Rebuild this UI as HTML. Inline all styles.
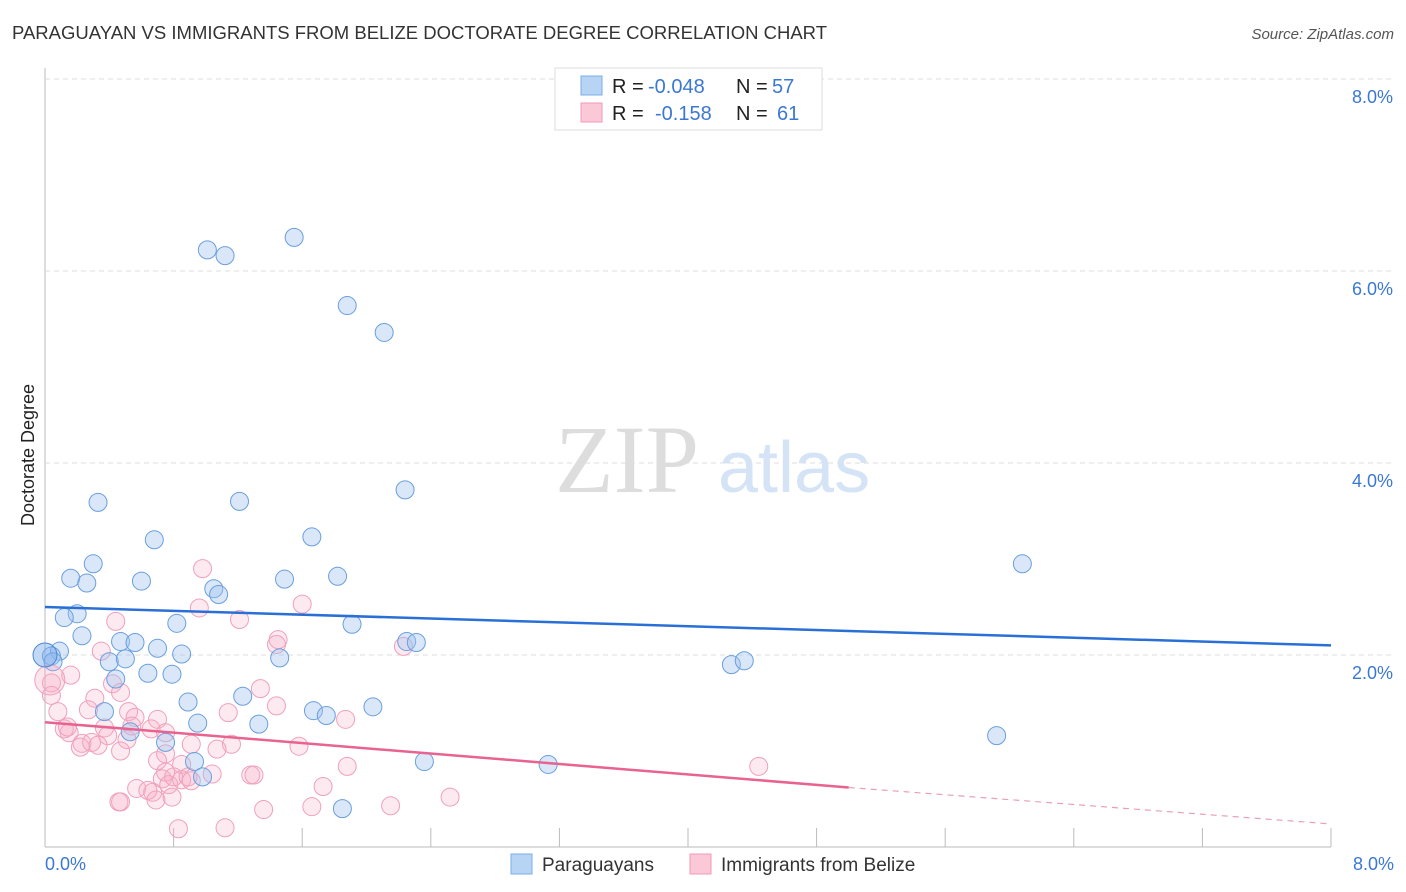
<!DOCTYPE html>
<html><head><meta charset="utf-8"><style>
body{margin:0;background:#fff;font-family:"Liberation Sans",sans-serif;}
svg{display:block}
</style></head><body>
<svg id="chart" width="1406" height="892">
<text x="12" y="39" font-size="18" fill="#333" textLength="815" lengthAdjust="spacingAndGlyphs">PARAGUAYAN VS IMMIGRANTS FROM BELIZE DOCTORATE DEGREE CORRELATION CHART</text>
<text x="1394" y="39" font-size="15" fill="#555" text-anchor="end" font-style="italic">Source: ZipAtlas.com</text>
<text x="34" y="455" font-size="18" fill="#222" text-anchor="middle" transform="rotate(-90 34 455)">Doctorate Degree</text>
<g id="grid"></g>
<text x="555" y="492" font-size="96" fill="#ddd" font-family="Liberation Serif,serif">ZIP</text>
<text x="718" y="492" font-size="72" fill="#d4e3f5">atlas</text>
<g id="pts"></g>
<g id="lines"></g>
<g>
<rect x="555" y="68" width="267" height="62" fill="#fff" stroke="#ddd"/>
<rect x="581" y="76" width="21" height="19" fill="#b8d4f5" stroke="#7aaee8"/>
<rect x="581" y="103" width="21" height="19" fill="#fbc8d8" stroke="#f09ab5"/>
<text x="612" y="93" font-size="20" fill="#222">R =</text>
<text x="648" y="93" font-size="20" fill="#3b78d4">-0.048</text>
<text x="736" y="93" font-size="20" fill="#222">N =</text>
<text x="772" y="93" font-size="20" fill="#3b78d4">57</text>
<text x="612" y="120" font-size="20" fill="#222">R =</text>
<text x="655" y="120" font-size="20" fill="#3b78d4">-0.158</text>
<text x="736" y="120" font-size="20" fill="#222">N =</text>
<text x="777" y="120" font-size="20" fill="#3b78d4">61</text>
</g>
<g>
<rect x="511" y="854" width="21" height="20" fill="#b8d4f5" stroke="#7aaee8"/>
<text x="542" y="871" font-size="19" fill="#333">Paraguayans</text>
<rect x="690" y="854" width="21" height="20" fill="#fbc8d8" stroke="#f09ab5"/>
<text x="721" y="871" font-size="19" fill="#333">Immigrants from Belize</text>
</g>
</svg>
<script>
const yTicks=[2,4,6,8];
const xTickLabels=["0.0%","8.0%"];
const blueX=[1.01,1.12,1.55,1.88,2.11,0.33,1.21,2.24,0.68,1.66,0.30,0.16,0.26,0.60,1.05,1.08,1.49,1.82,6.08,0.20,0.12,0.82,1.91,0.23,0.47,0.56,0.70,0.85,0.09,0.04,0.05,2.25,2.31,0.40,0.50,1.46,0.79,4.27,4.35,0.64,0.44,1.23,0.89,0.37,1.67,1.75,2.04,0.95,1.33,0.53,0.75,5.92,0.93,2.36,3.13,0.98,1.85];
const blueY=[6.22,6.16,6.35,5.64,5.36,3.59,3.60,3.72,3.20,3.23,2.95,2.80,2.75,2.77,2.69,2.63,2.79,2.82,2.95,2.43,2.39,2.33,2.32,2.20,2.14,2.13,2.07,2.01,2.04,1.99,1.93,2.14,2.13,1.93,1.96,1.97,1.80,1.90,1.94,1.81,1.75,1.57,1.51,1.41,1.42,1.37,1.46,1.29,1.28,1.20,1.09,1.16,0.89,0.89,0.86,0.73,0.40];
const pinkX=[0.98,0.96,1.60,1.21,0.44,0.35,1.45,1.44,2.23,0.16,0.04,0.04,0.31,0.42,0.47,1.34,1.44,1.14,0.70,1.87,0.08,0.27,0.52,0.56,0.66,0.54,0.12,0.15,0.14,0.37,0.39,0.51,0.91,1.16,1.58,0.23,0.22,0.29,0.33,0.47,0.75,0.85,1.07,0.75,0.70,0.75,0.73,0.77,0.80,0.85,0.89,0.91,1.04,1.28,1.30,1.88,4.44,1.73,0.57,0.67,0.64,0.47,0.69,0.79,0.46,1.36,2.15,1.66,2.52,0.83,1.12];
const pinkY=[2.90,2.49,2.53,2.37,2.35,2.04,2.16,2.11,2.09,1.79,1.71,1.58,1.55,1.70,1.61,1.65,1.47,1.40,1.33,1.33,1.41,1.43,1.41,1.35,1.23,1.26,1.23,1.19,1.25,1.24,1.16,1.12,1.07,1.07,1.05,1.08,1.04,1.09,1.06,1.00,0.97,0.86,1.02,1.19,0.90,0.78,0.71,0.65,0.73,0.70,0.73,0.69,0.76,0.75,0.75,0.84,0.84,0.63,0.61,0.57,0.59,0.47,0.49,0.52,0.47,0.39,0.43,0.42,0.52,0.19,0.20];
const blueBig=[[0.0,2.0]], pinkBig=[[0.03,1.74]];
const blueTrend=[[0,2.50],[8,2.10]];
const pinkTrend=[[0,1.30],[5,0.62],[8,0.24]];
const NS="http://www.w3.org/2000/svg";
const sx=v=>45+v*160.75, sy=v=>847-v*96;
function mk(tag,attrs,parent){const e=document.createElementNS(NS,tag);for(const k in attrs)e.setAttribute(k,attrs[k]);parent.appendChild(e);return e;}
const grid=document.getElementById('grid'),pts=document.getElementById('pts'),lines=document.getElementById('lines');
mk('line',{x1:45,y1:68,x2:45,y2:847,stroke:'#bbb'},grid);
mk('line',{x1:45,y1:847,x2:1331,y2:847,stroke:'#bbb'},grid);
yTicks.forEach(t=>{
  const l=mk('line',{x1:45,y1:sy(t),x2:1394,y2:sy(t),stroke:'#ddd','stroke-dasharray':'5,4'},grid);
  
  
  const tx=mk('text',{x:1393,y:sy(t)+24,'font-size':18,fill:'#3b78d4','text-anchor':'end'},grid);
  tx.textContent=t.toFixed(1)+'%';
  
  
});
for(let i=1;i<=10;i++){const x=45+i*128.6;mk('line',{x1:x,y1:828,x2:x,y2:847,stroke:'#bbb'},grid);}
[[0,'start',45],[8,'end',1394]].forEach((d,i)=>{
  const tx=mk('text',{x:d[2],y:870,'font-size':18,fill:'#3b78d4','text-anchor':d[1]},grid);
  tx.textContent=xTickLabels[i];
  
  
});
function dots(X,Y,fill,stroke,name,r){
  X.forEach((v,i)=>{
    const c=mk('circle',{cx:sx(v),cy:sy(Y[i]),r:r,fill:fill,stroke:stroke,'stroke-width':1},pts);
    
    
  });
}
dots(pinkX,pinkY,'rgba(248,170,195,0.25)','#f0a0bb','point-belize',9);
dots(blueX,blueY,'rgba(160,196,240,0.4)','#6a9fde','point-paraguayan',9);
dots(pinkBig.map(p=>p[0]),pinkBig.map(p=>p[1]),'rgba(248,170,195,0.3)','#f0a0bb','point-belize',15);
dots(blueBig.map(p=>p[0]),blueBig.map(p=>p[1]),'rgba(120,170,235,0.45)','#4a88d8','point-paraguayan',12);
const bl=mk('line',{x1:sx(blueTrend[0][0]),y1:sy(blueTrend[0][1]),x2:sx(blueTrend[1][0]),y2:sy(blueTrend[1][1]),stroke:'#2a6fd6','stroke-width':2.5},lines);


const pl=mk('line',{x1:sx(pinkTrend[0][0]),y1:sy(pinkTrend[0][1]),x2:sx(pinkTrend[1][0]),y2:sy(pinkTrend[1][1]),stroke:'#e8638f','stroke-width':2.5},lines);


const pd=mk('line',{x1:sx(pinkTrend[1][0]),y1:sy(pinkTrend[1][1]),x2:sx(pinkTrend[2][0]),y2:sy(pinkTrend[2][1]),stroke:'#e8a0b8','stroke-width':1.2,'stroke-dasharray':'6,5'},lines);


</script>
</body></html>
